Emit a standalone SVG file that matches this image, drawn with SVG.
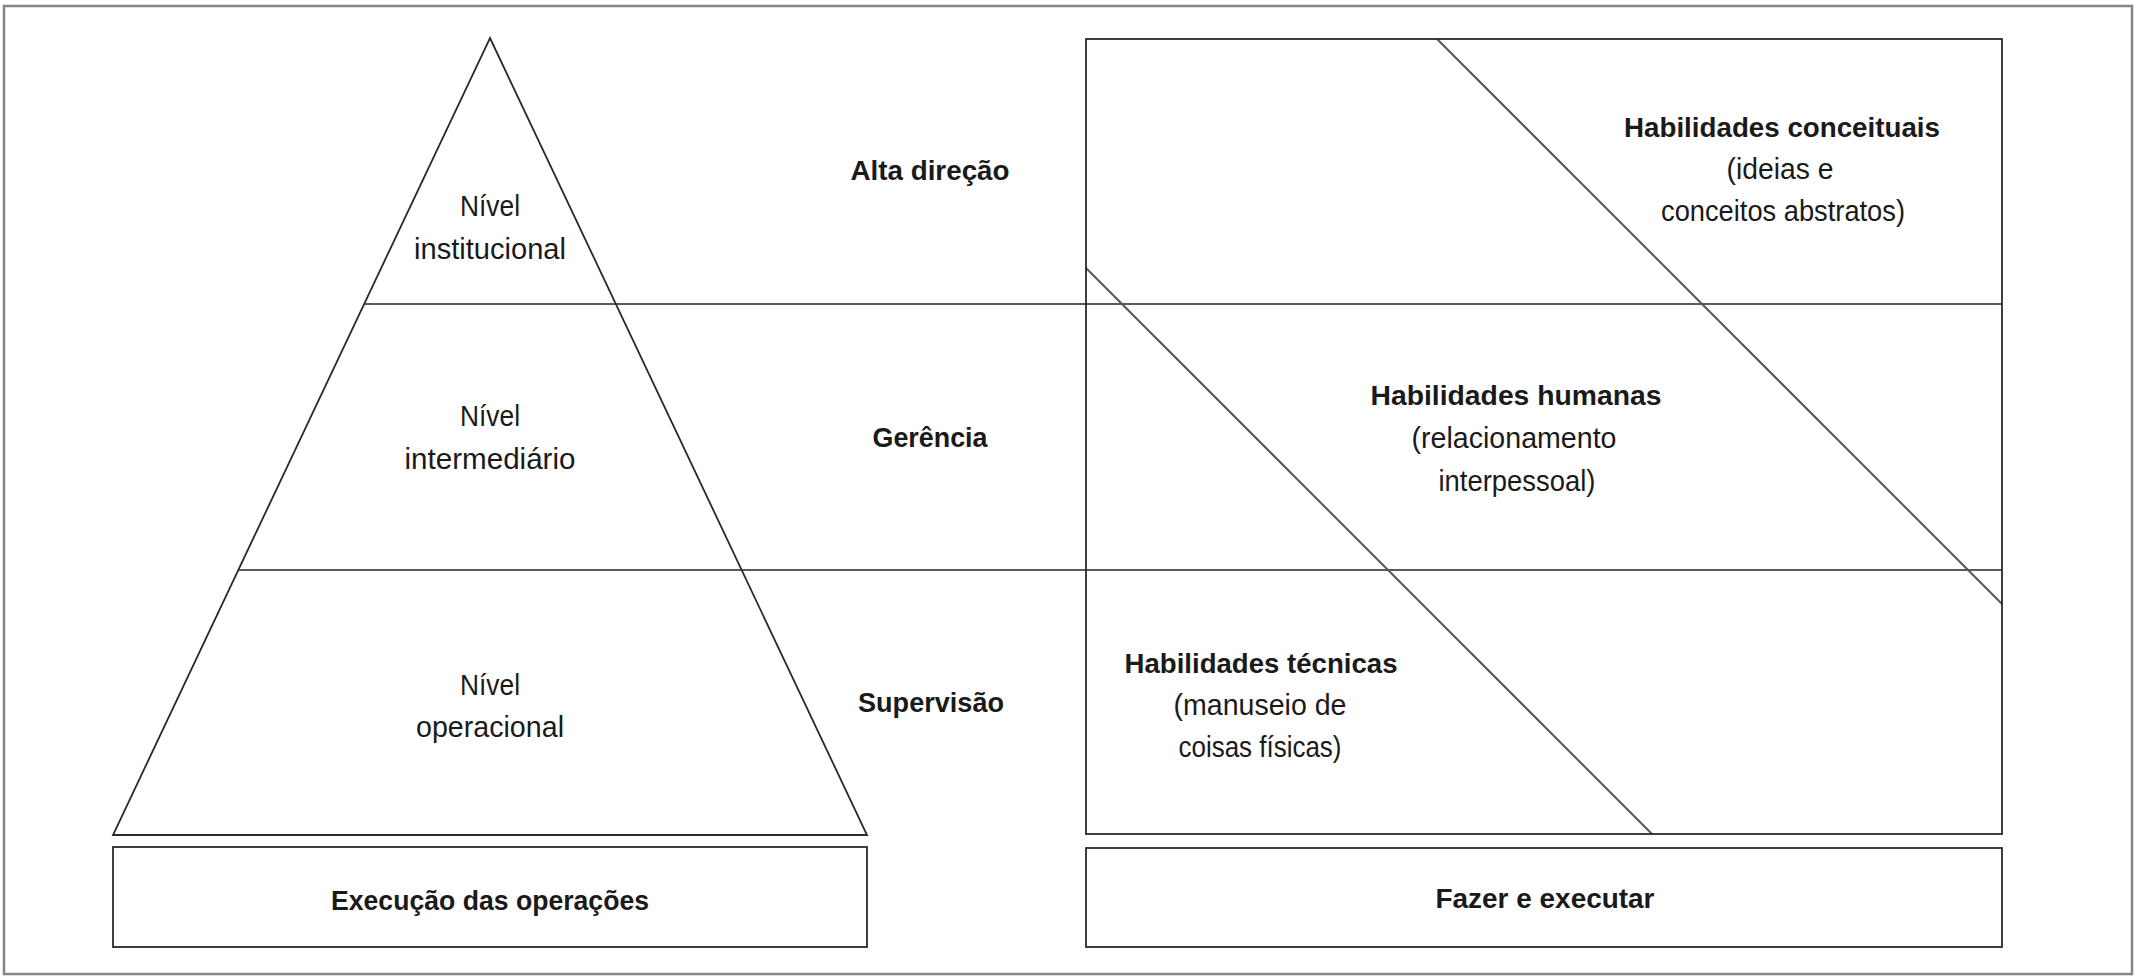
<svg xmlns="http://www.w3.org/2000/svg" width="2138" height="980" viewBox="0 0 2138 980">
<style>
  .frame{fill:none;stroke:#858585;stroke-width:2.5}
  .shape{fill:none;stroke:#2a2a2a;stroke-width:1.8}
  .hline{fill:none;stroke:#5a5a5a;stroke-width:2.2}
  .diag{fill:none;stroke:#555;stroke-width:2}
  text{font-family:"Liberation Sans","DejaVu Sans",sans-serif;fill:#1a1a1a;text-anchor:middle}
  .r{font-size:29px}
  .b{font-size:28px;font-weight:bold}
</style>
<rect x="0" y="0" width="2138" height="980" fill="#ffffff"/>
<rect class="frame" x="4" y="6" width="2128" height="968"/>

<g id="connectors">
  <line class="hline" x1="364" y1="304" x2="2002" y2="304"/>
  <line class="hline" x1="238" y1="570" x2="2002" y2="570"/>
  <line class="diag" x1="1437" y1="39" x2="2002" y2="604"/>
  <line class="diag" x1="1086" y1="268" x2="1652" y2="834"/>
</g>

<g id="pyramid">
  <polygon class="shape" points="490,38 867,835 113,835"/>
</g>

<g id="nivel-institucional">
  <text class="r" x="490" y="216" textLength="60" lengthAdjust="spacingAndGlyphs">Nível</text>
  <text class="r" x="490" y="259" textLength="152" lengthAdjust="spacingAndGlyphs">institucional</text>
</g>
<g id="nivel-intermediario">
  <text class="r" x="490" y="426" textLength="60" lengthAdjust="spacingAndGlyphs">Nível</text>
  <text class="r" x="490" y="469" textLength="171" lengthAdjust="spacingAndGlyphs">intermediário</text>
</g>
<g id="nivel-operacional">
  <text class="r" x="490" y="695" textLength="60" lengthAdjust="spacingAndGlyphs">Nível</text>
  <text class="r" x="490" y="737" textLength="148" lengthAdjust="spacingAndGlyphs">operacional</text>
</g>

<g id="alta-direcao">
  <text class="b" x="930" y="180" textLength="159" lengthAdjust="spacingAndGlyphs">Alta direção</text>
</g>
<g id="gerencia">
  <text class="b" x="930" y="447" textLength="115" lengthAdjust="spacingAndGlyphs">Gerência</text>
</g>
<g id="supervisao">
  <text class="b" x="931" y="712" textLength="146" lengthAdjust="spacingAndGlyphs">Supervisão</text>
</g>

<g id="habilidades-panel">
  <rect class="shape" x="1086" y="39" width="916" height="795"/>
</g>

<g id="habilidades-conceituais">
  <text class="b" x="1782" y="137" textLength="316" lengthAdjust="spacingAndGlyphs">Habilidades conceituais</text>
  <text class="r" x="1780" y="179" textLength="107" lengthAdjust="spacingAndGlyphs">(ideias e</text>
  <text class="r" x="1783" y="221" textLength="244" lengthAdjust="spacingAndGlyphs">conceitos abstratos)</text>
</g>
<g id="habilidades-humanas">
  <text class="b" x="1516" y="405" textLength="291" lengthAdjust="spacingAndGlyphs">Habilidades humanas</text>
  <text class="r" x="1514" y="448" textLength="205" lengthAdjust="spacingAndGlyphs">(relacionamento</text>
  <text class="r" x="1517" y="491" textLength="157" lengthAdjust="spacingAndGlyphs">interpessoal)</text>
</g>
<g id="habilidades-tecnicas">
  <text class="b" x="1261" y="673" textLength="273" lengthAdjust="spacingAndGlyphs">Habilidades técnicas</text>
  <text class="r" x="1260" y="715" textLength="173" lengthAdjust="spacingAndGlyphs">(manuseio de</text>
  <text class="r" x="1260" y="757" textLength="163" lengthAdjust="spacingAndGlyphs">coisas físicas)</text>
</g>

<g id="execucao-das-operacoes">
  <rect class="shape" x="113" y="847" width="754" height="100"/>
  <text class="b" x="490" y="910" textLength="318" lengthAdjust="spacingAndGlyphs">Execução das operações</text>
</g>
<g id="fazer-e-executar">
  <rect class="shape" x="1086" y="848" width="916" height="99"/>
  <text class="b" x="1545" y="908" textLength="219" lengthAdjust="spacingAndGlyphs">Fazer e executar</text>
</g>
</svg>
